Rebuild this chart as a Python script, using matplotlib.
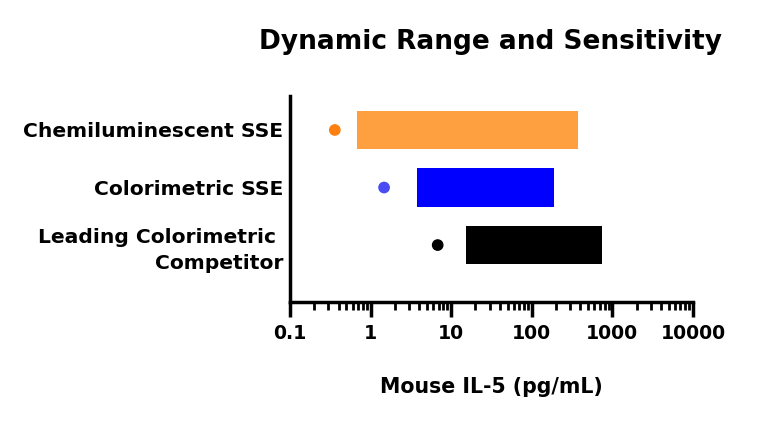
import numpy as np
import matplotlib.pyplot as plt
from matplotlib.ticker import LogLocator, NullFormatter

plt.rcParams['font.family'] = ['DejaVu Sans']
plt.rcParams['font.weight'] = 'bold'

assays = ["Chemiluminescent SSE", "Colorimetric SSE", "Leading Colorimetric \nCompetitor"]
range_low = [0.68, 3.8, 15.4]
range_high = [374, 187, 748]
sensitivity = [0.36, 1.47, 6.8]
bar_colors = ["#FFA040", "#0000FF", "#000000"]
dot_colors = ["#FF8010", "#4B4BF5", "#000000"]
xticks = [0.1, 1, 10, 100, 1000, 10000]
xticklabels = ["0.1", "1", "10", "100", "1000", "10000"]

fig = plt.figure(figsize=(7.68, 4.23), dpi=100)
ax = fig.add_axes([0.3776, 0.286, 0.5247, 0.487])

ypos = np.arange(len(assays))
ax.barh(ypos, np.array(range_high) - np.array(range_low), left=range_low,
        height=0.67, color=bar_colors)
ax.scatter(sensitivity, ypos, s=55, color=dot_colors, zorder=3)

ax.set_xscale("log")
ax.set_xlim(0.1, 10000)
ax.set_ylim(2.99, -0.59)
ax.set_xticks(xticks)
ax.set_xticklabels(xticklabels)
ax.xaxis.set_minor_locator(LogLocator(base=10, subs=np.arange(2, 10)))
ax.xaxis.set_minor_formatter(NullFormatter())
ax.set_yticks(ypos)
ax.set_yticklabels(assays, fontsize=14.6, fontweight="bold", linespacing=1.45)

ax.tick_params(axis="y", length=0, pad=5)
ax.tick_params(axis="x", which="major", length=11, width=2.5, labelsize=13.6, pad=5)
ax.tick_params(axis="x", which="minor", length=6, width=2)
for lbl in ax.get_xticklabels():
    lbl.set_fontweight("bold")

ax.spines["top"].set_visible(False)
ax.spines["right"].set_visible(False)
ax.spines["left"].set_linewidth(2.5)
ax.spines["bottom"].set_linewidth(2.5)

ax.set_xlabel("Mouse IL-5 (pg/mL)", fontsize=14.8, fontweight="bold", labelpad=24)
fig.text(0.639, 0.9, "Dynamic Range and Sensitivity", fontsize=19,
         fontweight="bold", ha="center", va="center")

plt.savefig("out.png", dpi=100)
